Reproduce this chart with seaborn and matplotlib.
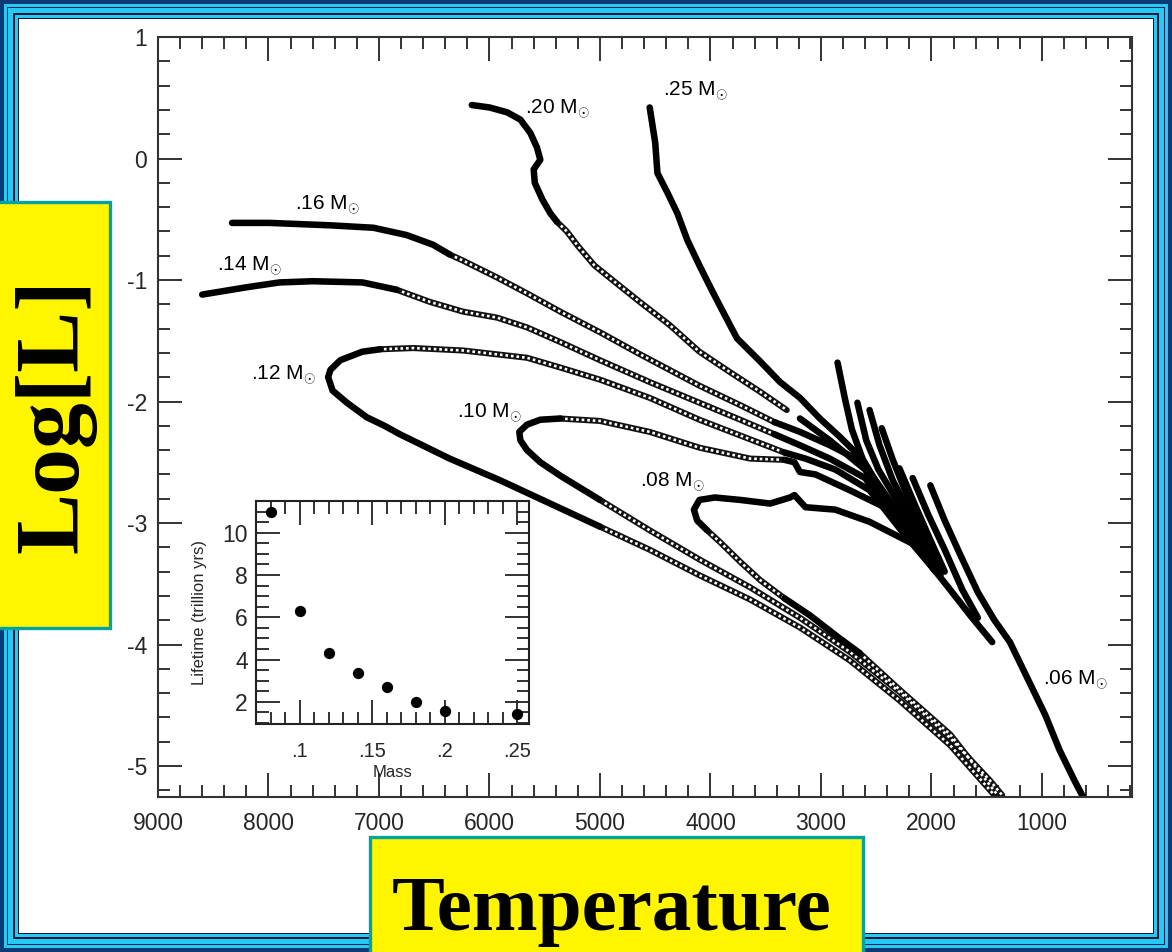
import matplotlib
matplotlib.use("Agg")
import matplotlib.pyplot as plt
from matplotlib.patches import Rectangle
from matplotlib.ticker import MultipleLocator, FuncFormatter
import pandas as pd
import seaborn as sns

# ---------------------------------------------------------------------------
# Evolutionary tracks of low-mass stars: effective temperature (K), log L/Lsun
# Each pattern string has one character per step between consecutive models:
#   S = densely sampled stretch, O = sparsely sampled stretch, - = no models
# ---------------------------------------------------------------------------
m25_T = [4550, 4500, 4480, 4390, 4300, 4210, 4100, 3990, 3870, 3760, 3550,
         3370, 3190, 3010, 2830, 2620, 2380, 2150, 1970]
m25_L = [0.42, 0.13, -0.12, -0.28, -0.45, -0.67, -0.88, -1.08, -1.29, -1.48,
         -1.67, -1.84, -1.97, -2.14, -2.29, -2.48, -2.85, -3.14, -3.39]
m25_pattern = "S" * 18

m20_T = [6160, 6000, 5840, 5720, 5630, 5570, 5540, 5600, 5590, 5520, 5450,
         5390, 5300, 5200, 5050, 4860, 4640, 4370, 4100, 3820, 3550, 3310,
         3190, 2920, 2600, 2290, 1970]
m20_L = [0.44, 0.42, 0.38, 0.32, 0.21, 0.09, -0.01, -0.09, -0.20, -0.34,
         -0.45, -0.52, -0.60, -0.72, -0.88, -1.02, -1.18, -1.37, -1.59, -1.76,
         -1.92, -2.07, -2.14, -2.32, -2.56, -2.98, -3.39]
m20_pattern = "S" * 11 + "O" * 10 + "-" + "S" * 4

m16_T = [8330, 7990, 7440, 7050, 6750, 6510, 6360, 6240, 5930, 5660, 5360,
         5000, 4640, 4100, 3730, 3420, 3190, 2920, 2620, 2290, 1970]
m16_L = [-0.53, -0.53, -0.55, -0.57, -0.63, -0.71, -0.79, -0.84, -0.98,
         -1.11, -1.26, -1.43, -1.61, -1.87, -2.03, -2.17, -2.25, -2.36,
         -2.50, -2.93, -3.39]
m16_pattern = "S" * 6 + "O" * 9 + "S" * 5

m14_T = [8600, 8200, 7900, 7600, 7150, 6840, 6540, 6240, 5930, 5660, 5360,
         5000, 4550, 4100, 3730, 3420, 3190, 2920, 2600, 2290, 1970]
m14_L = [-1.12, -1.06, -1.02, -1.01, -1.02, -1.08, -1.18, -1.26, -1.31,
         -1.39, -1.51, -1.66, -1.84, -2.01, -2.15, -2.27, -2.36, -2.47,
         -2.63, -3.02, -3.39]
m14_pattern = "S" * 5 + "O" * 10 + "S" * 5

m12_T = [1970, 2240, 2560, 2870, 3140, 3330, 3730, 4100, 4550, 5000, 5360,
         5660, 6240, 6690, 6990, 7150, 7350, 7440, 7460, 7420, 7290, 7110,
         6950, 6810, 6360, 5900, 5450, 5000, 4550, 4100, 3640, 3190, 2740,
         2290, 1830, 1430]
m12_L = [-3.39, -3.10, -2.73, -2.56, -2.47, -2.42, -2.28, -2.15, -1.97,
         -1.82, -1.72, -1.64, -1.58, -1.56, -1.57, -1.59, -1.66, -1.74,
         -1.80, -1.91, -2.01, -2.13, -2.20, -2.27, -2.47, -2.65, -2.84,
         -3.03, -3.22, -3.43, -3.63, -3.86, -4.13, -4.46, -4.83, -5.24]
m12_pattern = "S" * 5 + "O" * 9 + "S" * 13 + "O" * 8

m10_T = [1970, 2380, 2740, 3050, 3190, 3240, 3330, 3640, 4100, 4550, 5000,
         5360, 5540, 5660, 5730, 5720, 5660, 5540, 5360, 5000, 4550, 4100,
         3640, 3190, 2740, 2290, 1830, 1470, 1360]
m10_L = [-3.39, -2.89, -2.73, -2.60, -2.58, -2.50, -2.48, -2.47, -2.38,
         -2.25, -2.16, -2.14, -2.15, -2.19, -2.25, -2.32, -2.40, -2.50,
         -2.61, -2.81, -3.06, -3.30, -3.53, -3.78, -4.06, -4.39, -4.77,
         -5.12, -5.24]
m10_pattern = "S" * 6 + "O" * 5 + "S" * 8 + "O" * 9

m08_T = [1920, 2150, 2560, 2870, 3140, 3240, 3280, 3460, 3730, 3960, 4100,
         4150, 4120, 4030, 3910, 3730, 3550, 3330, 3100, 2830, 2650, 2290,
         1830, 1400]
m08_L = [-3.43, -3.18, -2.99, -2.89, -2.87, -2.77, -2.79, -2.84, -2.81,
         -2.79, -2.81, -2.89, -2.98, -3.06, -3.16, -3.32, -3.47, -3.62,
         -3.76, -3.95, -4.07, -4.37, -4.74, -5.24]
m08_pattern = "S" * 13 + "O" * 4 + "S" * 3 + "O" * 3

m06_T = [2010, 1880, 1740, 1580, 1430, 1290, 1130, 970, 840, 700, 630]
m06_L = [-2.69, -2.98, -3.26, -3.57, -3.80, -3.98, -4.28, -4.58, -4.87,
         -5.13, -5.25]
m06_pattern = "S" * 10

# pre-main-sequence contraction down to the main sequence
pms_a_T = [2850, 2780, 2720, 2620, 2380, 1970]
pms_a_L = [-1.68, -1.99, -2.23, -2.48, -2.85, -3.39]
pms_b_T = [2670, 2590, 2480, 2290, 1970]
pms_b_L = [-2.01, -2.32, -2.56, -2.85, -3.39]
pms_c_T = [2560, 2470, 2350, 2190, 1970]
pms_c_L = [-2.07, -2.36, -2.65, -2.93, -3.39]
pms_d_T = [2450, 2350, 2240, 2090, 1920]
pms_d_L = [-2.22, -2.48, -2.73, -3.06, -3.43]
pms_e_T = [2290, 2150, 2010, 1880]
pms_e_L = [-2.55, -2.85, -3.14, -3.40]
pms_f_T = [2170, 2030, 1880, 1720, 1580]
pms_f_L = [-2.63, -2.93, -3.22, -3.55, -3.78]
pms_g_T = [1970, 1830, 1650, 1450]
pms_g_L = [-3.39, -3.55, -3.76, -3.98]

track_names = [".25", ".20", ".16", ".14", ".12", ".10", ".08", ".06"]

# inset: main-sequence lifetime versus stellar mass
mass = [0.08, 0.10, 0.12, 0.14, 0.16, 0.18, 0.20, 0.25]
lifetime = [11.0, 6.3, 4.3, 3.35, 2.7, 2.0, 1.55, 1.4]

x_major = [1000, 2000, 3000, 4000, 5000, 6000, 7000, 8000, 9000]
y_major = [-5, -4, -3, -2, -1, 0, 1]


# ---------------------------------------------------------------------------
def pieces(name, T, L, pattern):
    rows, piece, cur = [], 0, None
    for i, c in enumerate(pattern):
        if c == "-":
            cur = None
            continue
        if c != cur:
            piece += 1
            cur = c
            rows.append((f"{name}-{piece}", c, T[i], L[i]))
        rows.append((f"{name}-{piece}", c, T[i + 1], L[i + 1]))
    return rows


rows = []
for nm, T, L, pat in [
    ("m25", m25_T, m25_L, m25_pattern),
    ("m20", m20_T, m20_L, m20_pattern),
    ("m16", m16_T, m16_L, m16_pattern),
    ("m14", m14_T, m14_L, m14_pattern),
    ("m12", m12_T, m12_L, m12_pattern),
    ("m10", m10_T, m10_L, m10_pattern),
    ("m08", m08_T, m08_L, m08_pattern),
    ("m06", m06_T, m06_L, m06_pattern),
]:
    rows += pieces(nm, T, L, pat)
for nm, T, L in [
    ("pa", pms_a_T, pms_a_L), ("pb", pms_b_T, pms_b_L),
    ("pc", pms_c_T, pms_c_L), ("pd", pms_d_T, pms_d_L),
    ("pe", pms_e_T, pms_e_L), ("pf", pms_f_T, pms_f_L),
    ("pg", pms_g_T, pms_g_L),
]:
    rows += pieces(nm, T, L, "S" * (len(T) - 1))

tracks = pd.DataFrame(rows, columns=["piece", "kind", "T", "logL"])
dense = tracks[tracks["kind"] == "S"]
sparse = tracks[tracks["kind"] == "O"]

# ---------------------------------------------------------------------------
sns.set_style("ticks")
plt.rcParams["font.family"] = ["Liberation Sans", "DejaVu Sans"]
plt.rcParams["axes.unicode_minus"] = False
plt.rcParams["mathtext.fontset"] = "custom"
plt.rcParams["mathtext.rm"] = "Liberation Sans"

W, H = 1172, 952
fig = plt.figure(figsize=(W / 100, H / 100), dpi=100)
fig.patch.set_facecolor("#0b3a74")


def px_box(x0, y0, x1, y1, **kw):
    return Rectangle((x0 / W, 1 - y1 / H), (x1 - x0) / W, (y1 - y0) / H,
                     transform=fig.transFigure, **kw)


# layered border around the white panel
border = [(4.0, "#26c9f3"), (6.7, "#0a2654"), (8.0, "#26c9f3"),
          (13.3, "#08193a"), (15.3, "#26c9f3"), (17.7, "#08193a"),
          (19.3, "white")]
for k, (inset, col) in enumerate(border):
    fig.add_artist(px_box(inset, inset, W - inset, H - inset,
                          facecolor=col, edgecolor="none", zorder=-20 + k))

ax = fig.add_axes([158 / W, 1 - 797 / H, (1132 - 158) / W, (797 - 37) / H])
ax.set_facecolor("white")

# sparse stretches: chain-like stroke (dark band with a broken light core)
sns.lineplot(data=sparse, x="T", y="logL", units="piece", estimator=None,
             sort=False, color="#111111", linewidth=4.4, ax=ax,
             solid_capstyle="round", solid_joinstyle="round")
sns.lineplot(data=sparse, x="T", y="logL", units="piece", estimator=None,
             sort=False, color="white", linewidth=1.9, ax=ax,
             linestyle=(0, (1.0, 1.1)))
# dense stretches: solid stroke
sns.lineplot(data=dense, x="T", y="logL", units="piece", estimator=None,
             sort=False, color="black", linewidth=4.7, ax=ax,
             solid_capstyle="round", solid_joinstyle="round")

ax.set_xlim(9000, 185)
ax.set_ylim(-5.255, 1.0)
ax.set_xticks(x_major)
ax.set_yticks(y_major)
ax.xaxis.set_minor_locator(MultipleLocator(200))
ax.yaxis.set_minor_locator(MultipleLocator(0.2))
ax.xaxis.set_major_formatter(FuncFormatter(lambda v, p: f"{v:.0f}"))
ax.yaxis.set_major_formatter(FuncFormatter(lambda v, p: f"{v:.0f}"))
ax.set_xlabel("")
ax.set_ylabel("")
ax.tick_params(which="both", direction="in", top=True, right=True,
               color="#333333", width=1.4)
ax.tick_params(which="major", length=17, labelsize=16.5)
ax.tick_params(which="minor", length=8.6)
ax.tick_params(axis="x", which="major", pad=11)
ax.tick_params(axis="y", which="major", pad=8)
for s in ax.spines.values():
    s.set_linewidth(1.5)
    s.set_color("#333333")

# mass labels beside the tracks
label_pos = [(4430, 0.52), (5680, 0.37), (7760, -0.42), (8470, -0.92),
             (8160, -1.82), (6290, -2.13), (4640, -2.70), (990, -4.33)]
for name, (tx, ty) in zip(track_names, label_pos):
    ax.text(tx, ty, name + r" M$_{\odot}$", fontsize=15, ha="left",
            va="baseline", color="black")

# inset: lifetime against mass
axi = fig.add_axes([256 / W, 1 - 724 / H, (529 - 256) / W, (724 - 501) / H])
axi.set_facecolor("white")
sns.scatterplot(x=mass, y=lifetime, ax=axi, color="black", s=66,
                edgecolor="black", linewidth=0, zorder=3)
axi.set_xlim(0.07, 0.258)
axi.set_ylim(0.95, 11.5)
axi.set_xticks([0.10, 0.15, 0.20, 0.25])
axi.set_yticks([2, 4, 6, 8, 10])
axi.xaxis.set_minor_locator(MultipleLocator(0.01))
axi.yaxis.set_minor_locator(MultipleLocator(0.5))
axi.xaxis.set_major_formatter(
    FuncFormatter(lambda v, p: f"{v:g}".replace("0.", ".", 1)))
axi.tick_params(which="both", direction="in", top=True, right=True,
                color="#222222", width=1.3)
axi.tick_params(which="major", length=17.5)
axi.tick_params(which="minor", length=9)
axi.tick_params(axis="x", which="major", labelsize=14.5, pad=13)
axi.tick_params(axis="y", which="major", labelsize=16.5, pad=6)
axi.set_xlabel("Mass", fontsize=12, labelpad=3)
axi.set_ylabel("Lifetime (trillion yrs)", fontsize=12, labelpad=11)
for s in axi.spines.values():
    s.set_linewidth(1.5)
    s.set_color("#222222")

# boxed axis titles
fig.add_artist(px_box(-6, 202, 110, 628, facecolor="#fff500",
                      edgecolor="#00a3a3", linewidth=2.4, zorder=10))
fig.text(55 / W, 1 - 416 / H, "Log[L]", rotation=90, ha="center",
         va="center", fontsize=66, fontweight="bold",
         family="Liberation Serif", color="black", zorder=11)
fig.add_artist(px_box(370, 837, 863, 962, facecolor="#fff500",
                      edgecolor="#00a3a3", linewidth=2.4, zorder=10))
fig.text(612 / W, 1 - 930 / H, "Temperature", ha="center", va="baseline",
         fontsize=57, fontweight="bold", family="Liberation Serif",
         color="black", zorder=11)

fig.savefig("out.png", dpi=100, facecolor=fig.get_facecolor())
